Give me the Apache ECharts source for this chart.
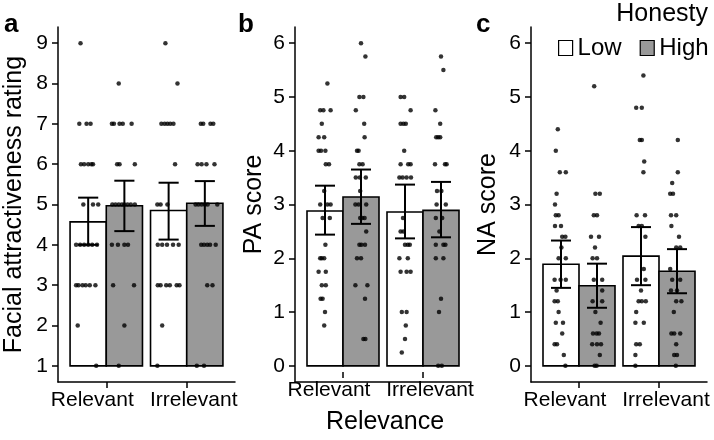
<!DOCTYPE html>
<html>
<head>
<meta charset="utf-8">
<script src="https://cdn.jsdelivr.net/npm/echarts@6/dist/echarts.min.js"></script>
<style>
html,body{margin:0;padding:0;background:#fff;}
#chart{width:714px;height:440px;}
</style>
</head>
<body>
<div id="chart"></div>
<script>
// ---------- data ----------
const categories = ['Relevant', 'Irrelevant'];
const honesty = ['Low', 'High'];
const aTicks = [1, 2, 3, 4, 5, 6, 7, 8, 9];
const bcTicks = [0, 1, 2, 3, 4, 5, 6];

// panel a: Facial attractiveness rating
const aMeanLow = [4.57, 4.85];
const aMeanHigh = [4.97, 5.03];
const aCiLow = [[4.00, 5.17], [4.13, 5.54]];
const aCiHigh = [[4.34, 5.59], [4.47, 5.58]];
// panel b: PA score
const bMeanLow = [2.88, 2.86];
const bMeanHigh = [3.14, 2.89];
const bCiLow = [[2.44, 3.35], [2.37, 3.37]];
const bCiHigh = [[2.64, 3.65], [2.39, 3.42]];
// panel c: NA score
const cMeanLow = [1.89, 2.04];
const cMeanHigh = [1.49, 1.76];
const cCiLow = [[1.45, 2.33], [1.50, 2.58]];
const cCiHigh = [[1.08, 1.90], [1.35, 2.17]];

// individual points: [horizontal jitter (category units), value]
const aLowRel = [[-0.095,9],[-0.11,7],[-0.02,7],[0.03,7],[-0.09,6],[-0.05,6],[0,6],[0.04,6],[0.06,6],
  [-0.06,5],[0.06,5],[0.125,5],[-0.15,4],[-0.10,4],[-0.05,4],[0,4],[0.05,4],[0.11,4],
  [-0.15,3],[-0.12,3],[-0.07,3],[-0.03,3],[0.02,3],[0.09,3],[-0.13,2],[0.10,1]];
const aHighRel = [[-0.07,8],[-0.155,7],[-0.13,7],[-0.06,7],[-0.02,7],[0.09,7],[-0.09,6],[-0.06,6],[0.13,6],
  [-0.15,5],[-0.11,5],[-0.07,5],[-0.03,5],[0,5],[0.04,5],[0.08,5],[0.13,5],
  [-0.155,4],[-0.08,4],[0,4],[0.045,4],[-0.14,3],[0.12,3],[0,2],[-0.07,1]];
const aLowIrr = [[-0.04,9],[0.11,8],[-0.09,7],[-0.05,7],[-0.015,7],[0.02,7],[0.06,7],[0.08,6],
  [-0.14,5],[-0.10,5],[-0.015,5],[-0.135,4],[-0.08,4],[-0.02,4],[0.055,4],[0.125,4],
  [-0.135,3],[-0.10,3],[-0.03,3],[0.015,3],[0.10,3],[0.135,3],[-0.08,2],[-0.14,1]];
const aHighIrr = [[-0.05,7],[-0.02,7],[0.07,7],[0.105,7],[-0.09,6],[-0.04,6],[0.02,6],[0.12,6],
  [-0.115,5],[-0.08,5],[-0.04,5],[0,5],[0.035,5],[0.155,5],
  [-0.045,4],[-0.01,4],[0.03,4],[0.065,4],[0.135,4],[0.03,3],[0.095,3],[-0.10,1],[-0.01,1]];

const bLowRel = [[0.03,5.25],[-0.06,4.75],[-0.02,4.75],[0.07,4.75],[-0.04,4.5],[-0.08,4.25],[-0.01,4.25],
  [-0.08,4],[-0.05,4],[0.005,4],[0.01,3.75],[0.05,3.75],[-0.01,3.25],[-0.06,3],[0.03,3],[0.07,3],
  [-0.03,2.75],[0.06,2.75],[0.005,2.25],[-0.06,2],[-0.04,2],[-0.01,2],[-0.08,1.75],[0.01,1.75],
  [-0.04,1.5],[0.01,1.5],[-0.055,1.25],[-0.03,1.25],[0,1],[-0.01,0.75]];
const bHighRel = [[0,6],[0.055,5.75],[-0.02,5],[0.03,5],[-0.065,4.75],[0.04,4.5],[0.045,4.25],
  [-0.05,4],[-0.03,4],[-0.02,3.75],[0.02,3.75],[-0.065,3.5],[-0.015,3.5],[0.06,3.5],[-0.01,3.25],
  [-0.07,3],[-0.03,3],[0.065,3],[-0.01,2.75],[0.015,2.75],[0.045,2.75],[0.065,2.5],
  [-0.02,2.25],[0.005,2.25],[0.05,2.25],[-0.05,2],[0,2],[-0.07,1.5],[0.08,1.5],[0.05,1.25],
  [0.03,0.5],[0.055,0.5]];
const bLowIrr = [[-0.055,5],[-0.01,5],[0.07,4.75],[-0.055,4.5],[-0.02,4.5],[0.01,4.5],[-0.01,4],
  [-0.055,3.75],[0.04,3.75],[0.07,3.75],[-0.07,3.5],[-0.03,3.5],[0.02,3.5],[0.075,3.5],
  [-0.025,2.75],[-0.055,2.5],[-0.02,2.5],[0,2.25],[0.035,2.25],[0.06,2.25],[-0.07,2],[0.035,2],
  [-0.055,1.75],[0.02,1.75],[0.07,1.75],[-0.04,1],[0.02,1],[0.01,0.75],[0,0.5],[-0.04,0.25]];
const bHighIrr = [[0,5.75],[0.03,5.5],[-0.07,4.75],[-0.01,4.5],[-0.06,4.25],[-0.035,4.25],[-0.01,4.25],
  [-0.075,3.75],[0.05,3.75],[0.07,3.75],[-0.05,3.25],[0.005,3.25],[-0.055,3],[0.06,3],
  [-0.065,2.75],[0.015,2.75],[-0.02,2.5],[-0.065,2.25],[0.03,2.25],[0.055,2.25],[-0.065,2],[0.03,2],
  [0,1.25],[-0.025,1],[-0.035,0],[0.01,0]];

const cLowRel = [[-0.04,4.4],[-0.065,4.0],[-0.015,3.6],[0.06,3.6],[-0.055,3.2],[-0.075,3.0],[-0.065,2.8],[-0.03,2.8],
  [-0.075,2.6],[0,2.6],[0.015,2.4],[0.055,2.4],[0.005,2.2],[-0.03,2.0],[0.06,2.0],
  [-0.08,1.6],[-0.005,1.6],[0.06,1.6],[-0.055,1.4],[-0.08,1.2],[-0.04,1.2],[-0.03,1.0],
  [-0.065,0.8],[0.025,0.8],[0.015,0.6],[-0.08,0.4],[-0.05,0.4],[0.035,0.2],[0.055,0]];
const cHighRel = [[-0.035,5.2],[-0.02,3.2],[0.035,3.2],[-0.04,2.8],[0,2.8],[-0.075,2.4],[0.025,2.4],[-0.025,2.2],
  [-0.055,2.0],[0,2.0],[-0.04,1.6],[0.065,1.6],[0.065,1.4],[-0.055,1.2],[0.065,1.2],[-0.02,1.0],
  [0.045,0.8],[-0.05,0.6],[-0.005,0.6],[0.025,0.6],[-0.06,0.4],[0,0.4],[0.05,0.4],[0.035,0.2],
  [-0.03,0],[-0.005,0]];
const cLowIrr = [[0.03,5.4],[-0.06,4.8],[0.01,4.8],[-0.015,4.2],[0.01,4.2],[0.04,3.8],[0.03,3.6],
  [-0.055,2.8],[0.05,2.8],[-0.03,2.6],[0.01,2.6],[0.055,2.4],[0.035,1.8],[-0.05,1.6],[0.055,1.6],
  [0,1.4],[-0.03,1.2],[0.01,1.2],[0.06,1.2],[-0.06,1.0],[-0.07,0.8],[0.035,0.8],
  [-0.06,0.4],[-0.015,0.4],[-0.07,0.2],[-0.07,0]];
const cHighIrr = [[0.01,4.2],[0.01,3.6],[-0.06,3.4],[-0.085,3.2],[-0.05,3.2],[-0.075,2.8],[-0.01,2.8],
  [-0.07,2.6],[0.025,2.4],[-0.01,2.2],[0.04,2.2],[-0.085,1.8],[-0.06,1.6],[0.04,1.6],
  [-0.075,1.4],[0,1.4],[-0.01,1.2],[0.055,1.2],[-0.04,1.0],[-0.07,0.6],[-0.035,0.6],[0.04,0.6],
  [-0.01,0.4],[-0.035,0.2],[0,0.2],[-0.015,0]];

// ---------- chart ----------
const FONT = '"Liberation Sans", Arial, sans-serif';
const BAR_HALF = 0.225;        // half of a dodged bar width (category units)
const GROUP_OFF = [-0.225, 0.225];
const CAP = 0.125;
const FILLS = ['#ffffff', '#999999'];
const X_MIN = 0.4, X_MAX = 2.6;  // discrete axis with 0.6 expansion each side

const PANELS = [ {left: 58, width: 177}, {left: 295, width: 176}, {left: 531, width: 176} ];
const TOP = 27, HEIGHT = 355;

const chart = echarts.init(document.getElementById('chart'), null, {renderer: 'canvas'});

function barSeries(gi, name, hIdx, means, base) {
  return {
    type: 'custom', name: name, xAxisIndex: gi, yAxisIndex: gi, z: 2,
    itemStyle: {color: FILLS[hIdx], borderColor: '#000', borderWidth: 1.5},
    data: means.map((m, i) => [i + 1, m]),
    renderItem: function (params, api) {
      const x = api.value(0) + GROUP_OFF[hIdx];
      const p0 = api.coord([x - BAR_HALF, base]);
      const p1 = api.coord([x + BAR_HALF, api.value(1)]);
      return {
        type: 'rect',
        shape: {x: p0[0], y: p1[1], width: p1[0] - p0[0], height: p0[1] - p1[1]},
        style: {fill: FILLS[hIdx], stroke: '#000', lineWidth: 1.6}
      };
    }
  };
}

function errSeries(gi, hIdx, ci) {
  return {
    type: 'custom', name: 'ci' + hIdx, xAxisIndex: gi, yAxisIndex: gi, z: 6,
    data: ci.map((c, i) => [i + 1, c[0], c[1]]),
    renderItem: function (params, api) {
      const x = api.value(0) + GROUP_OFF[hIdx];
      const lo = api.coord([x, api.value(1)]);
      const hi = api.coord([x, api.value(2)]);
      const l1 = api.coord([x - CAP, api.value(1)]);
      const r1 = api.coord([x + CAP, api.value(1)]);
      const l2 = api.coord([x - CAP, api.value(2)]);
      const r2 = api.coord([x + CAP, api.value(2)]);
      const st = {stroke: '#000', lineWidth: 2};
      return {type: 'group', children: [
        {type: 'line', shape: {x1: lo[0], y1: lo[1], x2: hi[0], y2: hi[1]}, style: st},
        {type: 'line', shape: {x1: l1[0], y1: l1[1], x2: r1[0], y2: r1[1]}, style: st},
        {type: 'line', shape: {x1: l2[0], y1: l2[1], x2: r2[0], y2: r2[1]}, style: st}
      ]};
    }
  };
}

function dotSeries(gi, hIdx, catIdx, pts) {
  return {
    type: 'scatter', name: 'pts', xAxisIndex: gi, yAxisIndex: gi, z: 4,
    symbol: 'circle', symbolSize: 4.5, silent: true,
    itemStyle: {color: '#000'},
    data: pts.map(p => [catIdx + 1 + GROUP_OFF[hIdx] + p[0], p[1]])
  };
}

// main grids (value x axis, drawn line only) + label grids (category axis spanning the two category slots)
const grids = [], xAxes = [], yAxes = [];
PANELS.forEach((p, i) => {
  grids.push({left: p.left, top: TOP, width: p.width, height: HEIGHT});
});
PANELS.forEach((p, i) => {
  const unit = p.width / (X_MAX - X_MIN);
  grids.push({left: p.left + (1 - X_MIN) * unit - unit / 2, top: TOP, width: 2 * unit, height: HEIGHT});
});

PANELS.forEach((p, i) => {
  xAxes.push({
    type: 'value', gridIndex: i, min: X_MIN, max: X_MAX,
    axisLine: {show: true, onZero: false, lineStyle: {color: '#000', width: 1.5}},
    axisTick: {show: false}, axisLabel: {show: false}, splitLine: {show: false}
  });
});
const LABEL_RICH = {
  l: {fontSize: 21, color: '#000', fontFamily: FONT, padding: [0, 28, 0, 0]},
  r: {fontSize: 21, color: '#000', fontFamily: FONT, padding: [0, 0, 0, 14]}
};
PANELS.forEach((p, i) => {
  xAxes.push({
    type: 'category', gridIndex: 3 + i, data: categories, boundaryGap: true,
    name: i === 1 ? 'Relevance' : '', nameLocation: 'middle', nameGap: 38,
    nameTextStyle: {fontSize: 25, color: '#000', fontFamily: FONT, padding: [0, 0, 0, 4]},
    axisLine: {show: false},
    axisTick: {show: true, alignWithLabel: true, length: 6, lineStyle: {color: '#000', width: 1.5}},
    axisLabel: {show: true, interval: 0, margin: 8, fontSize: 21, color: '#000', fontFamily: FONT,
      formatter: (v, idx) => (idx === 0 ? '{l|' : '{r|') + v + '}', rich: LABEL_RICH},
    splitLine: {show: false}
  });
});

function yAxisCfg(gi, min, max, ticks, name, gap) {
  return {
    type: 'value', gridIndex: gi, min: min, max: max,
    name: name, nameLocation: 'middle', nameRotate: 90, nameGap: gap,
    nameTextStyle: {fontSize: 25, color: '#000', fontFamily: FONT},
    axisLine: {show: true, onZero: false, lineStyle: {color: '#000', width: 1.5}},
    axisTick: {show: true, customValues: ticks, length: 6, lineStyle: {color: '#000', width: 1.5}},
    axisLabel: {show: true, customValues: ticks, margin: 10, fontSize: 21, color: '#000', fontFamily: FONT},
    splitLine: {show: false}
  };
}
yAxes.push(yAxisCfg(0, 0.6, 9.4, aTicks, 'Facial attractiveness rating', 31));
yAxes.push(yAxisCfg(1, -0.3, 6.3, bcTicks, 'PA score', 28));
yAxes.push(yAxisCfg(2, -0.3, 6.3, bcTicks, 'NA score', 30));
for (let i = 0; i < 3; i++) {
  yAxes.push({type: 'value', gridIndex: 3 + i, show: false, min: 0, max: 1});
}

const series = [];
function addPanel(gi, base, mLow, mHigh, ciL, ciH, dots) {
  series.push(barSeries(gi, honesty[0], 0, mLow, base));
  series.push(barSeries(gi, honesty[1], 1, mHigh, base));
  series.push(dotSeries(gi, 0, 0, dots[0]));
  series.push(dotSeries(gi, 1, 0, dots[1]));
  series.push(dotSeries(gi, 0, 1, dots[2]));
  series.push(dotSeries(gi, 1, 1, dots[3]));
  series.push(errSeries(gi, 0, ciL));
  series.push(errSeries(gi, 1, ciH));
}
addPanel(0, 1, aMeanLow, aMeanHigh, aCiLow, aCiHigh, [aLowRel, aHighRel, aLowIrr, aHighIrr]);
addPanel(1, 0, bMeanLow, bMeanHigh, bCiLow, bCiHigh, [bLowRel, bHighRel, bLowIrr, bHighIrr]);
addPanel(2, 0, cMeanLow, cMeanHigh, cCiLow, cCiHigh, [cLowRel, cHighRel, cLowIrr, cHighIrr]);

chart.setOption({
  animation: false,
  backgroundColor: '#fff',
  textStyle: {fontFamily: FONT},
  grid: grids,
  xAxis: xAxes,
  yAxis: yAxes,
  legend: {
    left: 553, top: 31, width: 200, orient: 'horizontal', itemWidth: 14, itemHeight: 15, itemGap: 18,
    selectedMode: false,
    textStyle: {fontSize: 24, color: '#000', fontFamily: FONT},
    data: [
      {name: honesty[0], icon: 'rect', itemStyle: {color: FILLS[0], borderColor: '#000', borderWidth: 1.2}},
      {name: honesty[1], icon: 'rect', itemStyle: {color: FILLS[1], borderColor: '#000', borderWidth: 1.2}}
    ]
  },
  graphic: [
    {type: 'text', left: 4, top: 12, style: {text: 'a', font: 'bold 26px ' + FONT, fill: '#000'}},
    {type: 'text', left: 238, top: 12, style: {text: 'b', font: 'bold 26px ' + FONT, fill: '#000'}},
    {type: 'text', left: 476, top: 12, style: {text: 'c', font: 'bold 26px ' + FONT, fill: '#000'}},
    {type: 'text', right: 6, top: 2, style: {text: 'Honesty', font: '25px ' + FONT, fill: '#000'}}
  ],
  series: series
});
</script>
</body>
</html>
